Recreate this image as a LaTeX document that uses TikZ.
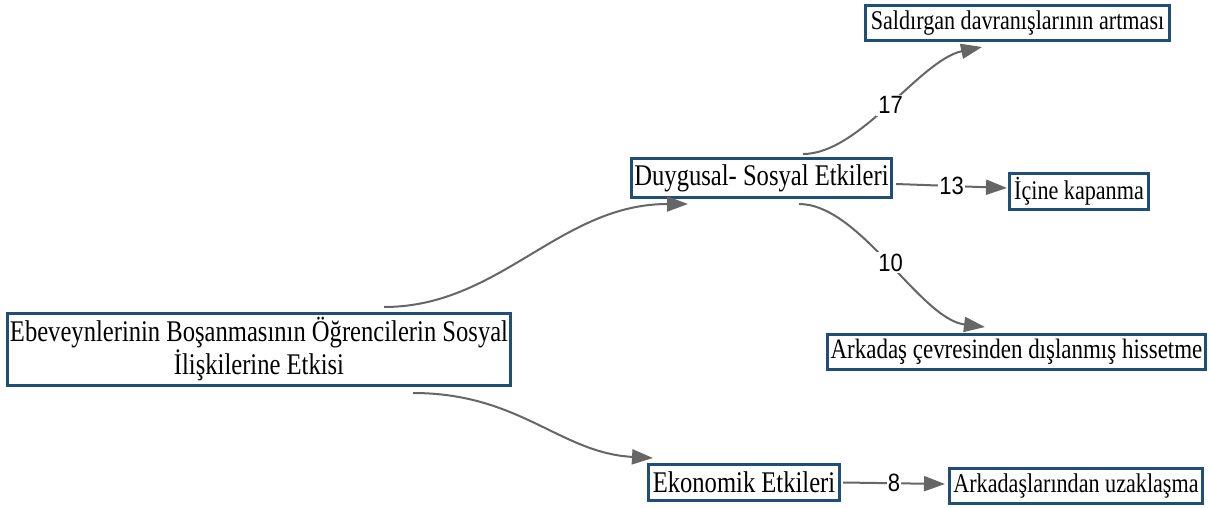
\documentclass[tikz,border=0pt]{standalone}
\usepackage{fontspec}
\setmainfont{Liberation Serif}[FakeStretch=0.82]
\newfontfamily\numfont{Liberation Sans}[FakeStretch=0.88]
\usetikzlibrary{arrows.meta,calc}
\definecolor{boxblue}{HTML}{1F4E79}
\definecolor{edgegray}{HTML}{666666}
\tikzset{
  boxnode/.style={draw=boxblue, line width=3pt, fill=white, inner sep=0pt, align=center, text=black},
  bigtext/.style={font=\fontsize{30}{33}\selectfont},
  smalltext/.style={font=\fontsize{27}{30}\selectfont},
  conn/.style={draw=edgegray, line width=2pt, -{Triangle[length=21pt,width=15pt]}},
  lbl/.style={fill=white, inner sep=2pt, font=\numfont\fontsize{25}{28}\selectfont, text=black}
}
\begin{document}
\begin{tikzpicture}[x=1pt,y=-1pt]
\useasboundingbox (0,0) rectangle (1209,508);
\fill[white] (0,0) rectangle (1209,508);
% nodes
\node[boxnode, bigtext, minimum width=503pt, minimum height=72pt] (main) at (259,349.5)
  {Ebeveynlerinin Boşanmasının Öğrencilerin Sosyal\\İlişkilerine Etkisi};
\node[boxnode, bigtext, minimum width=260pt, minimum height=39pt] (duy) at (761.5,178) {Duygusal- Sosyal Etkileri};
\node[boxnode, smalltext, minimum width=304pt, minimum height=35pt] (sal) at (1017.5,23) {Saldırgan davranışlarının artması};
\node[boxnode, smalltext, minimum width=139pt, minimum height=36pt] (ici) at (1079,191.5) {İçine kapanma};
\node[boxnode, font=\fontsize{28}{31}\selectfont, minimum width=378pt, minimum height=35pt] (ark) at (1016.5,352) {Arkadaş çevresinden dışlanmış hissetme};
\node[boxnode, bigtext, minimum width=191pt, minimum height=36pt] (eko) at (744,482.5) {Ekonomik Etkileri};
\node[boxnode, smalltext, minimum width=253pt, minimum height=35pt] (uza) at (1076,486) {Arkadaşlarından uzaklaşma};
% connectors
\draw[conn] ($(main.north)+(125,-5)$) .. controls +(116,0) and +(-128,0) .. ($(duy.south)+(-73.5,5)$);
\draw[conn] ($(main.south)+(154,6)$) .. controls +(107,0) and +(-93,-5) .. ($(eko.north)+(-91,-5)$);
\draw[conn] ($(duy.north)+(41.5,-3)$) .. controls +(57,0) and +(-62,13) .. node[lbl] {17} ($(sal.south)+(-35.5,5)$);
\draw[conn] ($(duy.east)+(3,6)$) -- node[lbl, inner sep=1pt] {13} ($(ici.west)+(-1,-3.5)$);
\draw[conn] ($(duy.south)+(37.5,5)$) .. controls +(61,0) and +(-65,-8) .. node[lbl] {10} ($(ark.north)+(-31.5,-6)$);
\draw[conn] ($(eko.east)+(2,0)$) -- node[lbl, inner sep=1pt] {8} ($(uza.west)+(-3,-2)$);
\end{tikzpicture}
\end{document}
